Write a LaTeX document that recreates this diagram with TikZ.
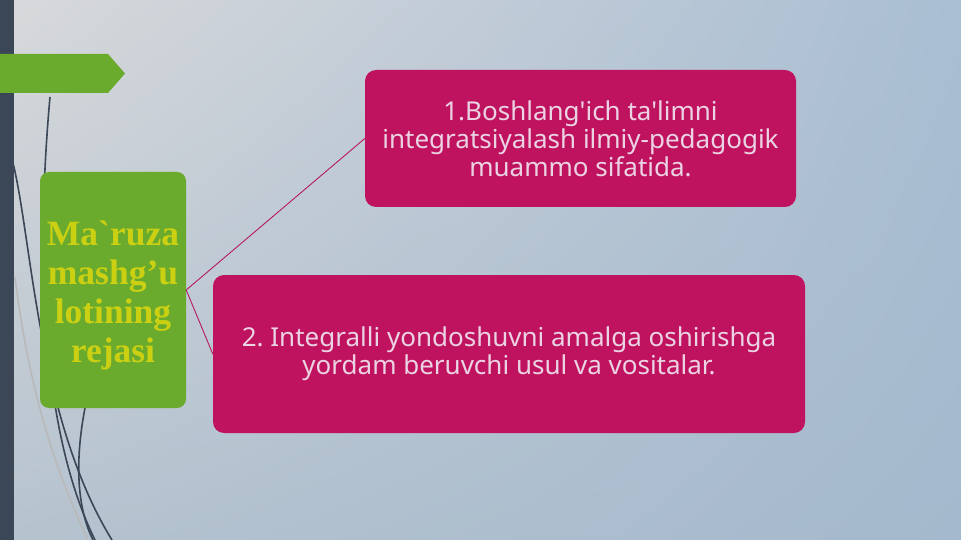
\documentclass[tikz,border=0pt]{standalone}
\usepackage{fontspec}
\usetikzlibrary{shadings}
\newfontfamily\boxfont{Noto Sans}[Ligatures=TeXOff]
\newfontfamily\planfont{Liberation Serif}[Ligatures=TeXOff]

\definecolor{slidestrip}{HTML}{3B4656}
\definecolor{leafgreen}{HTML}{6AAB2E}
\definecolor{planyellow}{HTML}{CCD012}
\definecolor{topicred}{HTML}{C0135F}
\definecolor{topictext}{HTML}{EBD3E3}
\definecolor{linkred}{HTML}{B51A5E}
\definecolor{bgtl}{HTML}{D8D9DB}
\definecolor{bgtr}{HTML}{A9BED3}
\definecolor{bgbl}{HTML}{B6C3CF}
\definecolor{bgbr}{HTML}{A4B9CD}

\begin{document}
\frenchspacing
\begin{tikzpicture}[x=1pt,y=-1pt,
  planbox/.style={fill=leafgreen, rounded corners=9pt, minimum width=146pt,
    minimum height=236pt, inner sep=0pt},
  plantext/.style={text=planyellow, align=center, inner sep=0pt,
    font=\planfont\bfseries\fontsize{35.5}{39}\selectfont},
  topicbox/.style={fill=topicred, rounded corners=11pt, inner sep=0pt,
    text=topictext, align=center, font=\boxfont\fontsize{26}{28}\selectfont},
  link/.style={draw=linkred, line width=0.9pt},
  wisp/.style={draw=slidestrip, line width=1.6pt}]

\useasboundingbox (0,0) rectangle (961,540);

% background
\shade[upper left=bgtl, upper right=bgtr, lower left=bgbl, lower right=bgbr]
  (0,0) rectangle (961,540);

\fill [slidestrip] (0,0) rectangle (14,540);

% wisps
\draw [draw=gray!55, line width=1.6pt] (15,277) .. controls (30,400) and (60,480) .. (88,540);
\draw [wisp] (50,97) .. controls (38,230) and (36,420) .. (95,540);
\draw [wisp] (13,163) .. controls (32,240) and (38,420) .. (112,540);
\draw [wisp] (85,408) .. controls (74,465) and (78,510) .. (93,540);

\fill [leafgreen] (0,54)--(108,54)--(125,73.5)--(108,93)--(0,93)--cycle;

\node [planbox] (plan) at (113,290) {};
\node [plantext] (plantitle) at (113,295) {Ma`ruza\\mashg’u\\lotining\\rejasi};

\node [topicbox, minimum width=431pt, minimum height=137pt] (topic1) at (580.5,138.5)
  {1.Boshlang'ich ta'limni\\integratsiyalash ilmiy-pedagogik\\muammo sifatida.};
\node [topicbox, minimum width=592pt, minimum height=158pt] (topic2) at (509,354)
  {2. Integralli yondoshuvni amalga oshirishga\\yordam beruvchi usul va vositalar.};

\draw [link] (plan.east) -- (topic1.west);
\draw [link] (plan.east) -- (topic2.west);

\end{tikzpicture}
\end{document}
